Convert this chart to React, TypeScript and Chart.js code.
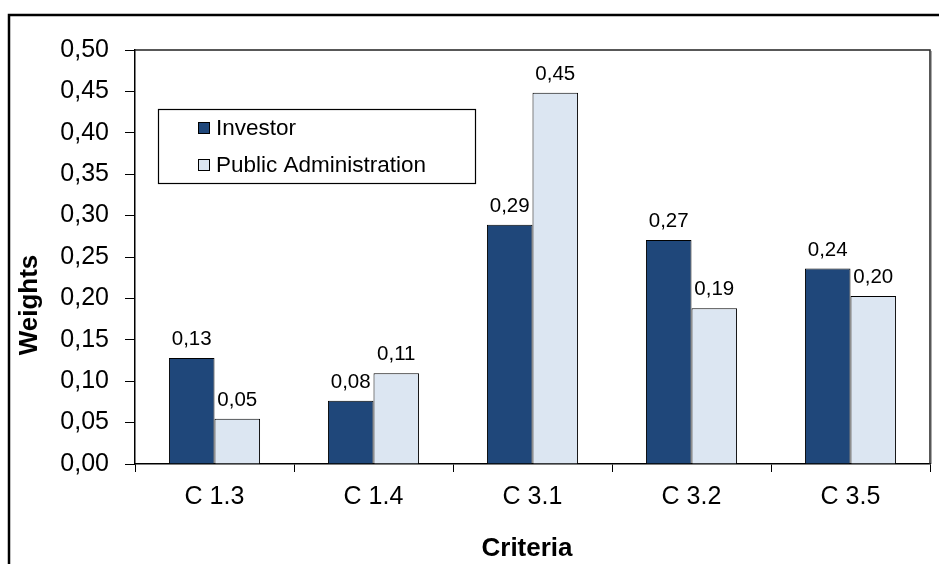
import React, { useEffect, useRef } from "react";
import { Chart, registerables } from "chart.js";

Chart.register(...registerables);

const categories = ["C 1.3", "C 1.4", "C 3.1", "C 3.2", "C 3.5"];
const investor = [0.128, 0.0765, 0.289, 0.2705, 0.236];
const publicAdmin = [0.0547, 0.1095, 0.4485, 0.188, 0.203];
const seriesNames = ["Investor", "Public Administration"];
const seriesColors = ["#1F477A", "#DCE6F2"];
const yTitle = "Weights";
const xTitle = "Criteria";

const FONT = "'Liberation Sans', Arial, sans-serif";
const fmt = (v: number) => v.toFixed(2).replace(".", ",");

const decorPlugin = {
  id: "decor",
  afterDraw(chart: any) {
    const ctx = chart.ctx;
    const a = chart.chartArea;
    ctx.save();
    // outer frame
    ctx.strokeStyle = "#000";
    ctx.lineWidth = 2.5;
    ctx.strokeRect(9, 15, 940, 600);
    // plot frame top & right
    ctx.lineWidth = 1.5;
    ctx.strokeStyle = "#222";
    ctx.beginPath();
    ctx.moveTo(a.left, a.top);
    ctx.lineTo(a.right, a.top);
    ctx.lineTo(a.right, a.bottom);
    ctx.stroke();
    ctx.strokeStyle = "#aaa";
    ctx.lineWidth = 1;
    ctx.beginPath();
    ctx.moveTo(a.right + 1.5, a.top + 1);
    ctx.lineTo(a.right + 1.5, a.bottom);
    ctx.stroke();

    // data labels
    ctx.fillStyle = "#000";
    ctx.font = `20.5px ${FONT}`;
    ctx.textAlign = "center";
    ctx.textBaseline = "alphabetic";
    chart.data.datasets.forEach((ds: any, i: number) => {
      const meta = chart.getDatasetMeta(i);
      meta.data.forEach((el: any, j: number) => {
        ctx.fillText(fmt(ds.data[j]), el.x, el.y - 13);
      });
    });

    // legend box
    const lx = 158, ly = 109, lw = 317, lh = 74;
    ctx.fillStyle = "#fff";
    ctx.fillRect(lx, ly, lw, lh);
    ctx.strokeStyle = "#000";
    ctx.lineWidth = 1.2;
    ctx.strokeRect(lx + 0.5, ly + 0.5, lw, lh);
    ctx.font = `22.5px ${FONT}`;
    ctx.textAlign = "left";
    ctx.textBaseline = "middle";
    const rows = [128, 165];
    chart.data.datasets.forEach((ds: any, i: number) => {
      const cy = rows[i];
      ctx.fillStyle = ds.backgroundColor;
      ctx.fillRect(198, cy - 6, 12, 12);
      ctx.strokeStyle = "#000";
      ctx.lineWidth = 1;
      ctx.strokeRect(198.5, cy - 5.5, 11, 11);
      ctx.fillStyle = "#000";
      ctx.fillText(ds.label, 216, cy + 1);
    });

    // axis titles
    ctx.font = `bold 26px ${FONT}`;
    ctx.textAlign = "center";
    ctx.textBaseline = "middle";
    ctx.fillText(xTitle, 527, 549);
    ctx.save();
    ctx.translate(30, 305);
    ctx.rotate(-Math.PI / 2);
    ctx.fillText(yTitle, 0, 0);
    ctx.restore();
    ctx.restore();
  },
};

export default function App() {
  const ref = useRef<HTMLCanvasElement | null>(null);
  useEffect(() => {
    if (!ref.current) return;
    const chart = new Chart(ref.current, {
      type: "bar",
      data: {
        labels: categories,
        datasets: [
          {
            label: seriesNames[0],
            data: investor,
            backgroundColor: seriesColors[0],
            borderColor: "#000",
            borderWidth: 1,
          },
          {
            label: seriesNames[1],
            data: publicAdmin,
            backgroundColor: seriesColors[1],
            borderColor: "#000",
            borderWidth: 1,
          },
        ],
      },
      options: {
        responsive: false,
        animation: false,
        devicePixelRatio: 1,
        layout: { padding: { top: 50, right: 9, left: 0, bottom: 0 } },
        plugins: { legend: { display: false }, tooltip: { enabled: false } },
        datasets: { bar: { barPercentage: 1, categoryPercentage: 0.573 } },
        scales: {
          x: {
            afterFit: (s: any) => {
              s.height = 100;
            },
            grid: {
              drawOnChartArea: false,
              drawTicks: true,
              tickLength: 8,
              color: "#000",
              offset: true,
            },
            border: { color: "#000", width: 1.5 },
            ticks: {
              color: "#000",
              font: { family: FONT, size: 25 },
              padding: 10,
              maxRotation: 0,
            },
          },
          y: {
            min: 0,
            max: 0.5,
            afterFit: (s: any) => {
              s.width = 135;
            },
            grid: {
              drawOnChartArea: false,
              drawTicks: true,
              tickLength: 10,
              color: "#000",
            },
            border: { color: "#000", width: 1.5 },
            ticks: {
              stepSize: 0.05,
              color: "#000",
              font: { family: FONT, size: 25 },
              padding: 16,
              callback: (v: any) => fmt(Number(v)),
            },
          },
        },
      },
      plugins: [decorPlugin],
    } as any);
    return () => chart.destroy();
  }, []);
  return (
    <div style={{ position: "absolute", left: 0, top: 0, width: 939, height: 564, background: "#fff" }}>
      <canvas ref={ref} width={939} height={564} />
    </div>
  );
}
